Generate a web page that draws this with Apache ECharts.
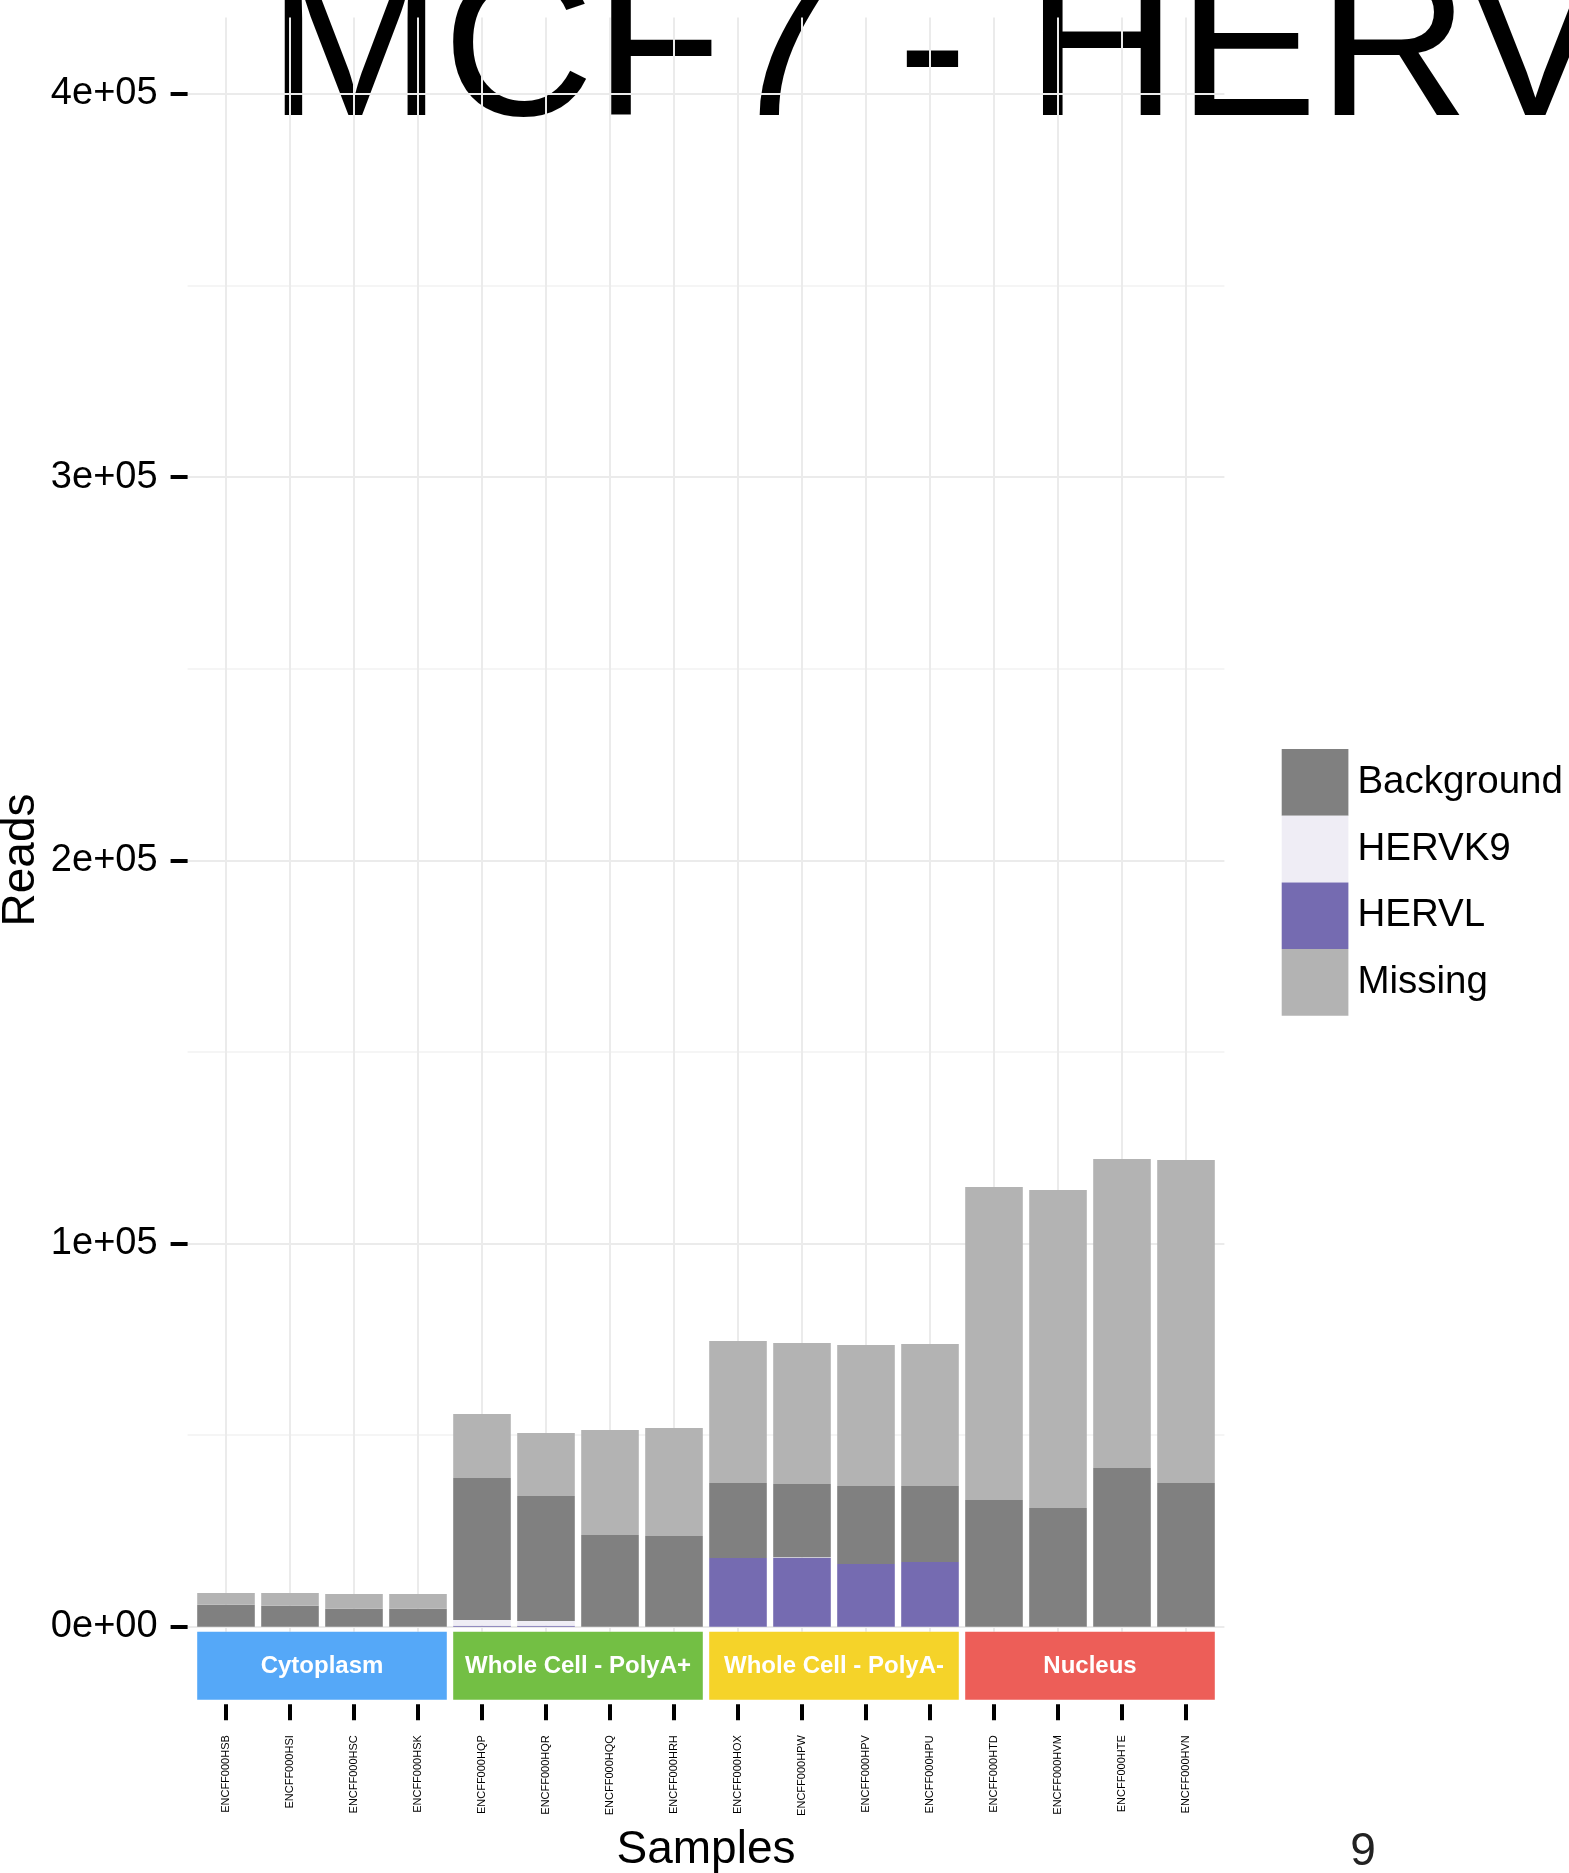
<!DOCTYPE html>
<html>
<head>
<meta charset="utf-8">
<script src="https://cdn.jsdelivr.net/npm/echarts@6/dist/echarts.min.js"></script>
<style>html,body{margin:0;padding:0;background:#fff;}#chart{width:1569px;height:1873px;}</style>
</head>
<body>
<div id="chart"></div>
<script>
// ---- data ----
const samples = ['ENCFF000HSB','ENCFF000HSI','ENCFF000HSC','ENCFF000HSK',
                 'ENCFF000HQP','ENCFF000HQR','ENCFF000HQQ','ENCFF000HRH',
                 'ENCFF000HOX','ENCFF000HPW','ENCFF000HPV','ENCFF000HPU',
                 'ENCFF000HTD','ENCFF000HVM','ENCFF000HTE','ENCFF000HVN'];
const hervl      = [0, 0, 0, 0,   300, 300, 0, 0,   17950, 18030, 16390, 16910,   0, 0, 0, 0];
const hervk9     = [0, 0, 0, 0,   1470, 1210, 0, 0,   0, 150, 0, 0,   0, 0, 0, 0];
const background = [5770, 5510, 4720, 4720,   37060, 32620, 23960, 23700,
                    19580, 19090, 20350, 19830,   33090, 31000, 41440, 37530];
const missing    = [3050, 3310, 3840, 3840,   16700, 16440, 27400, 28180,
                    37050, 36790, 36800, 37060,   81680, 82990, 80640, 84290];
const groups      = ['Cytoplasm', 'Whole Cell - PolyA+', 'Whole Cell - PolyA-', 'Nucleus'];
const groupStart  = [0, 4, 8, 12];
const groupEnd    = [3, 7, 11, 15];
const groupColors = ['#55A8F8', '#73BF44', '#F5D329', '#ED5E58'];
const yTickValues = [0, 100000, 200000, 300000, 400000];
const yTickLabels = ['0e+00', '1e+05', '2e+05', '3e+05', '4e+05'];
const seriesNames  = ['Background', 'HERVK9', 'HERVL', 'Missing'];
const seriesColors = {Background: '#808080', HERVK9: '#EFEDF5', HERVL: '#756BB1', Missing: '#B3B3B3'};

const FONT = '"Liberation Sans", Arial, Helvetica, sans-serif';
const chart = echarts.init(document.getElementById('chart'), null, {renderer: 'canvas'});

function barSeries(name, values) {
  return {
    name: name, type: 'bar', xAxisIndex: 1, yAxisIndex: 1, stack: 'total',
    barWidth: 57.6, clip: false, data: values,
    itemStyle: {color: seriesColors[name]},
    emphasis: {disabled: true}, silent: true
  };
}

const option = {
  animation: false,
  backgroundColor: '#ffffff',
  grid: [
    {left: 187.6, top: 17.4, width: 1036.8, height: 1609.4, outerBoundsMode: 'none'},
    {left: 226, top: 94.0, width: 960, height: 1532.8, outerBoundsMode: 'none'},
    {left: 226, top: 17.4, width: 960, height: 1614.3, outerBoundsMode: 'none'},
    {left: 226, top: 1631.7, width: 960, height: 68, outerBoundsMode: 'none'},
    {left: 226, top: 1700, width: 960, height: 4.2, outerBoundsMode: 'none'}
  ],
  xAxis: [
    {gridIndex: 0, type: 'category', data: samples, show: false},
    {gridIndex: 1, type: 'category', data: samples, boundaryGap: false,
     axisLine: {show: false}, axisTick: {show: false}, axisLabel: {show: false}, splitLine: {show: false}},
    {gridIndex: 2, type: 'category', data: samples, boundaryGap: false,
     axisLine: {show: false}, axisTick: {show: false}, axisLabel: {show: false},
     splitLine: {show: true, interval: 0, lineStyle: {color: '#EBEBEB', width: 2}}},
    {gridIndex: 3, type: 'category', data: samples, boundaryGap: false, show: false},
    {gridIndex: 4, type: 'category', data: samples, boundaryGap: false,
     axisLine: {show: false},
     axisTick: {show: true, interval: 0, length: 16, lineStyle: {color: '#000', width: 4}},
     axisLabel: {show: true, interval: 0, rotate: 90, fontSize: 11, margin: 31, color: '#000', fontFamily: FONT},
     splitLine: {show: false}}
  ],
  yAxis: [
    {gridIndex: 0, type: 'value', min: 0, max: 420000, interval: 50000,
     axisLine: {show: false}, axisTick: {show: false}, axisLabel: {show: false},
     splitLine: {show: true, showMaxLine: false, lineStyle: {color: ['#EBEBEB', '#F5F5F5'], width: 2}}},
    {gridIndex: 1, type: 'value', min: 0, max: 400000, interval: 100000, offset: 38.4,
     axisLine: {show: false},
     axisTick: {show: true, length: 17, lineStyle: {color: '#000', width: 4}},
     axisLabel: {show: true, fontSize: 38, margin: 30, color: '#000', fontFamily: FONT, padding: [5, 0, 0, 0],
       formatter: function (v) { const i = yTickValues.indexOf(v); return i >= 0 ? yTickLabels[i] : ''; }},
     splitLine: {show: false}},
    {gridIndex: 2, type: 'value', show: false},
    {gridIndex: 3, type: 'value', min: 0, max: 1, show: false},
    {gridIndex: 4, type: 'value', min: 0, max: 1, show: false}
  ],
  legend: {
    orient: 'vertical', left: 1281.7, top: 749, itemWidth: 66.7, itemHeight: 66.7, itemGap: 0,
    padding: 0, icon: 'rect', selectedMode: false, data: seriesNames,
    textStyle: {fontSize: 38.5, color: '#000', fontFamily: FONT, padding: [7, 0, 0, 4]}
  },
  series: [
    barSeries('HERVL', hervl),
    barSeries('HERVK9', hervk9),
    barSeries('Background', background),
    barSeries('Missing', missing),
    {
      type: 'custom', xAxisIndex: 3, yAxisIndex: 3, silent: true,
      encode: {x: [0, 1], y: 2},
      data: groups.map(function (g, i) { return [groupStart[i], groupEnd[i], 0]; }),
      renderItem: function (params, api) {
        const i = params.dataIndex;
        const s = api.coord([api.value(0), 0]);
        const e = api.coord([api.value(1), 0]);
        const bw = api.size([1, 0])[0];
        const cs = params.coordSys;
        const x0 = s[0] - bw * 0.45, x1 = e[0] + bw * 0.45;
        return {
          type: 'group',
          children: [
            {type: 'rect', shape: {x: x0, y: cs.y, width: x1 - x0, height: cs.height},
             style: {fill: groupColors[i]}},
            {type: 'text', style: {text: groups[i], x: (x0 + x1) / 2, y: cs.y + cs.height / 2 + 1,
              align: 'center', verticalAlign: 'middle', fill: '#ffffff',
              font: 'bold 24px ' + FONT}}
          ]
        };
      }
    }
  ],
  graphic: [
    {type: 'text', x: 267.5, y: 57, silent: true,
     style: {text: 'MCF7 - HERV', font: '210px ' + FONT, fill: '#000', align: 'left', verticalAlign: 'middle'}},
    {type: 'text', x: 21, y: 860, rotation: Math.PI / 2, silent: true,
     style: {text: 'Reads', font: '46px ' + FONT, fill: '#000', align: 'center', verticalAlign: 'middle'}},
    {type: 'text', x: 706, y: 1850, silent: true,
     style: {text: 'Samples', font: '46px ' + FONT, fill: '#000', align: 'center', verticalAlign: 'middle'}},
    {type: 'text', x: 1363, y: 1852, silent: true,
     style: {text: '9', font: '46px ' + FONT, fill: '#222', align: 'center', verticalAlign: 'middle'}}
  ]
};
chart.setOption(option);
</script>
</body>
</html>
